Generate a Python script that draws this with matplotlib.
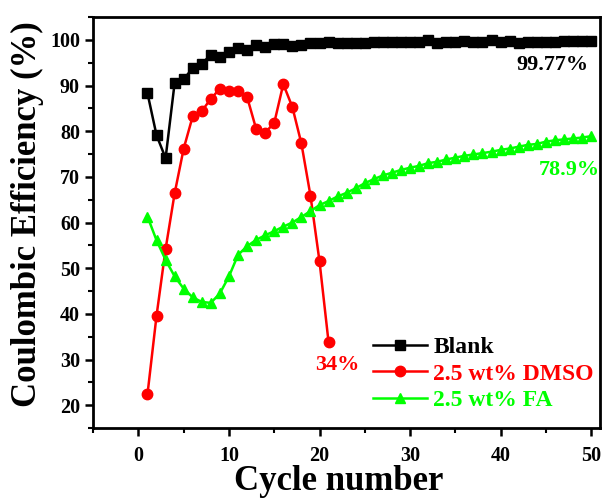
import matplotlib
matplotlib.use("Agg")
import matplotlib.pyplot as plt
from matplotlib.ticker import MultipleLocator

plt.rcParams['font.family'] = ['Liberation Serif', 'DejaVu Serif']
plt.rcParams['font.weight'] = 'bold'

cycles_blank = list(range(1, 51))
blank = [88.3, 79.1, 74.1, 90.6, 91.4, 93.8, 94.8, 96.7, 96.3, 97.3,
         98.2, 97.8, 98.8, 98.5, 99.0, 99.0, 98.7, 98.8, 99.4, 99.3,
         99.6, 99.3, 99.4, 99.4, 99.4, 99.5, 99.5, 99.5, 99.6, 99.5,
         99.6, 99.9, 99.4, 99.6, 99.6, 99.8, 99.5, 99.6, 99.9, 99.5,
         99.8, 99.3, 99.6, 99.6, 99.6, 99.6, 99.7, 99.7, 99.7, 99.77]

cycles_dmso = list(range(1, 22))
dmso = [22.4, 39.6, 54.2, 66.4, 76.2, 83.3, 84.4, 87.1, 89.3, 88.7,
        88.7, 87.5, 80.5, 79.7, 81.8, 90.3, 85.3, 77.3, 65.9, 51.5, 33.8]

cycles_fa = list(range(1, 51))
fa = [61.3, 56.1, 51.8, 48.2, 45.5, 43.6, 42.6, 42.4, 44.5, 48.2,
      52.9, 54.8, 56.2, 57.2, 58.1, 59.1, 60.0, 61.2, 62.5, 63.8,
      64.7, 65.7, 66.5, 67.5, 68.6, 69.5, 70.3, 70.9, 71.5, 72.0,
      72.4, 73.0, 73.3, 73.8, 74.2, 74.6, 74.9, 75.2, 75.5, 75.9,
      76.2, 76.6, 77.0, 77.2, 77.7, 78.0, 78.2, 78.4, 78.6, 78.9]

labels = ["Blank", "2.5 wt% DMSO", "2.5 wt% FA"]
colors = ["#000000", "#ff0000", "#00ff00"]

fig = plt.figure(figsize=(6.05, 5.0), dpi=100)
ax = fig.add_axes([0.154, 0.144, 0.838, 0.822])

ax.plot(cycles_blank, blank, color=colors[0], marker='s', markersize=6.5, lw=1.8, label=labels[0])
ax.plot(cycles_dmso, dmso, color=colors[1], marker='o', markersize=7.5, lw=1.8, label=labels[1])
ax.plot(cycles_fa, fa, color=colors[2], marker='^', markersize=7.5, lw=1.8, label=labels[2])

ax.set_xlim(-5, 51)
ax.set_ylim(15, 105)
ax.xaxis.set_major_locator(MultipleLocator(10))
ax.xaxis.set_minor_locator(MultipleLocator(5))
ax.yaxis.set_major_locator(MultipleLocator(10))
ax.yaxis.set_minor_locator(MultipleLocator(5))
ax.tick_params(which='major', direction='out', length=6, width=1.8, labelsize=14.5)
ax.tick_params(axis='x', which='major', pad=7)
ax.tick_params(which='minor', direction='out', length=3.5, width=1.5)
for s in ax.spines.values():
    s.set_linewidth(2)

ax.set_xlabel("Cycle number", fontsize=25, fontweight='bold', va='baseline')
ax.set_ylabel("Coulombic Efficiency (%)", fontsize=25, fontweight='bold')
ax.xaxis.set_label_coords(0.485, -0.151)
ax.yaxis.set_label_coords(-0.097, 0.52)

ax.text(49.75, 93.3, "99.77%", color='black', fontsize=16, fontweight='bold', ha='right', va='baseline')
ax.text(51.0, 70.5, "78.9%", color=colors[2], fontsize=16, fontweight='bold', ha='right', va='baseline')
ax.text(22.0, 27.7, "34%", color=colors[1], fontsize=16, fontweight='bold', ha='center', va='baseline')

leg = ax.legend(loc='lower right', bbox_to_anchor=(1.02, 0.0), frameon=False, fontsize=17,
                handlelength=2.3, handletextpad=0.25, labelspacing=0.22, borderaxespad=0.3)
for t, c in zip(leg.get_texts(), colors):
    t.set_color(c)
    t.set_fontweight('bold')

fig.savefig("out.png", dpi=100)
